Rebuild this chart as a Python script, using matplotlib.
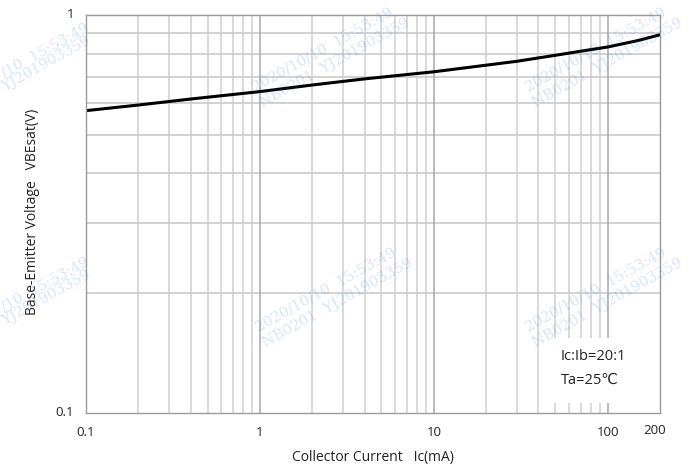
import math
import matplotlib
matplotlib.use("Agg")
import matplotlib.pyplot as plt
from matplotlib.patches import Rectangle

plt.rcParams['font.family'] = ['Open Sans', 'DejaVu Sans']

# Collector current (mA) and base-emitter saturation voltage (V)
ic_ma = [0.1, 0.2, 0.4, 1, 2, 4, 10, 20, 30, 50, 70, 100, 150, 200]
vbesat = [0.575, 0.594, 0.615, 0.642, 0.667, 0.691, 0.720, 0.748, 0.765, 0.792,
          0.811, 0.831, 0.863, 0.892]

x_ticks = [0.1, 1, 10, 100]
x_tick_labels = ["0.1", "1", "10", "100"]
y_ticks = [0.1, 1]
y_tick_labels = ["0.1", "1"]

W, H = 690, 470
fig = plt.figure(figsize=(6.9, 4.7), dpi=100)
ax = fig.add_axes([86 / W, 57 / H, 574 / W, 398 / H])
ax.set_xscale('log')
ax.set_yscale('log')
ax.set_xlim(0.1, 200)
ax.set_ylim(0.1, 1)

# grid: minor decades lighter, major decades darker
for v in [0.2, 0.3, 0.4, 0.5, 0.6, 0.7, 0.8, 0.9]:
    ax.axhline(v, color='#d2d2d2', lw=1.4, zorder=1)
for dec in [0.1, 1, 10, 100]:
    for m in range(2, 10):
        xv = dec * m
        if xv >= 200:
            continue
        ax.axvline(xv, color='#cfcfcf', lw=1.1, zorder=1)
for xv in [1, 10, 100]:
    ax.axvline(xv, color='#a8a8a8', lw=1.1, zorder=1)

# white panel behind the conditions text
ax.add_patch(Rectangle((545 / W, 67 / H), 110 / W, 65 / H,
                       transform=fig.transFigure, facecolor='white',
                       edgecolor='none', zorder=2))

ax.plot(ic_ma, vbesat, color='black', lw=2.2, zorder=4,
        solid_capstyle='round', solid_joinstyle='round')

for s in ax.spines.values():
    s.set_color('#9a9a9a')
    s.set_linewidth(1.0)
    s.set_zorder(5)

ax.set_xticks([])
ax.set_yticks([])
ax.minorticks_off()
ax.tick_params(which='both', length=0)


def fx(v):
    return (86 + 174 * (math.log10(v) + 1)) / W


def fy(v):
    return (H - (15 + 398 * (-math.log10(v)))) / H


for v, lab in zip(x_ticks, x_tick_labels):
    fig.text(fx(v), 1 - 433 / H, lab, ha='center', va='center', fontsize=9.5, color='#222222')
fig.text(655 / W, 1 - 431 / H, "200", ha='center', va='center', fontsize=9.5, color='#222222')
for v, lab in zip(y_ticks, y_tick_labels):
    fig.text(74 / W, fy(v), lab, ha='right', va='center', fontsize=9.5, color='#222222')

fig.text(373 / W, 1 - 458 / H, "Collector Current   Ic(mA)", ha='center', va='center',
         fontsize=10, color='#222222')
fig.text(33 / W, 1 - 212 / H, "Base-Emitter Voltage   VBEsat(V)", ha='center', va='center',
         rotation=90, fontsize=10, color='#222222')

fig.text(561 / W, 1 - 356 / H, "Ic:Ib=20:1", ha='left', va='center', fontsize=10.5,
         color='#222222', zorder=6)
fig.text(561 / W, 1 - 380 / H, "Ta=25℃", ha='left', va='center', fontsize=10.5,
         color='#222222', zorder=6)

# stamped watermark, tiled across the sheet
line1 = "2020/10/10  15:53:49"
line2 = "NB0201  YJ201903359"
wm = dict(rotation=29, rotation_mode='anchor', va='baseline', fontsize=10.5,
          color='#3a78e8', alpha=0.2, family='DejaVu Serif', zorder=7)
for x0, y0 in [(255, 92), (528, 92), (258, 332), (528, 332)]:
    fig.text(x0 / W, 1 - y0 / H, line1, ha='left', **wm)
    fig.text((x0 + 8) / W, 1 - (y0 + 15) / H, line2, ha='left', **wm)
# left column, only its right-hand part falls on the sheet
for x1, y1 in [(90, 30), (90, 264)]:
    fig.text(x1 / W, 1 - y1 / H, "/10  15:53:49", ha='right', **wm)
    fig.text((x1 + 2) / W, 1 - (y1 + 13) / H, "YJ201903359", ha='right', **wm)

fig.savefig("out.png", dpi=100)
